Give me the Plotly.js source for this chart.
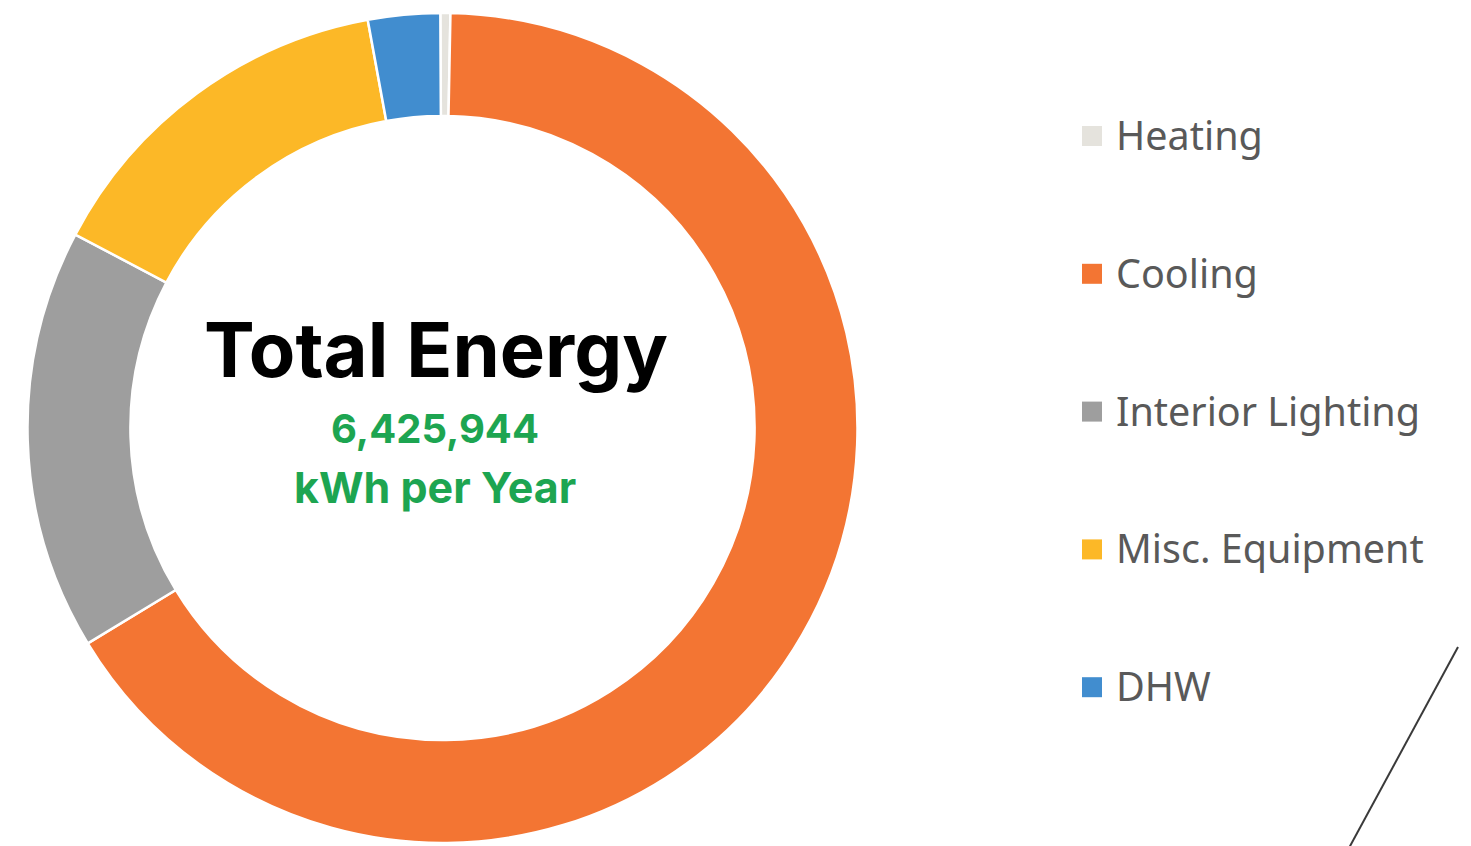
<!DOCTYPE html>
<html>
<head>
<meta charset="utf-8">
<script src="https://cdn.plot.ly/plotly-3.0.1.min.js"></script>
<style>html,body{margin:0;padding:0;background:#fff;}#chart{width:1471px;height:846px;}</style>
</head>
<body>
<div id="chart"></div>
<script>
// Data (kWh per year)
const categories = ["Heating", "Cooling", "Interior Lighting", "Misc. Equipment", "DHW"];
const energyKWh = [25000, 4241744, 1053900, 925300, 180000];
const sliceColors = ["#E5E3DD", "#F37533", "#9E9E9E", "#FCB827", "#418DCF"];
const centerTitle = "Total Energy";
const totalLabel = "6,425,944";
const unitLabel = "kWh per Year";

const W = 1471, H = 846;
const cx = 442.5, cy = 428, R = 415;
const px = x => x / W;
const py = y => (H - y) / H;

const trace = {
  type: "pie",
  labels: categories,
  values: energyKWh,
  marker: {colors: sliceColors, line: {color: "#ffffff", width: 2.5}},
  hole: 0.752,
  sort: false,
  direction: "clockwise",
  rotation: -0.3,
  textinfo: "none",
  hoverinfo: "label+value+percent",
  showlegend: false,
  domain: {x: [px(cx - R), px(cx + R)], y: [py(cy + R), py(cy - R)]}
};

const annotations = [
  {text: "<b>" + centerTitle + "</b>", x: px(436), y: py(349), xref: "paper", yref: "paper",
   showarrow: false, xanchor: "center", yanchor: "middle",
   font: {family: "Inter, 'Noto Sans', sans-serif", size: 76, color: "#000000"}},
  {text: "<b>" + totalLabel + "</b>", x: px(435), y: py(428), xref: "paper", yref: "paper",
   showarrow: false, xanchor: "center", yanchor: "middle",
   font: {family: "Inter, 'Noto Sans', sans-serif", size: 40, color: "#1DA551"}},
  {text: "<b>" + unitLabel + "</b>", x: px(435), y: py(487), xref: "paper", yref: "paper",
   showarrow: false, xanchor: "center", yanchor: "middle",
   font: {family: "Inter, 'Noto Sans', sans-serif", size: 43, color: "#1DA551"}}
];

const shapes = [
  {type: "line", xref: "paper", yref: "paper", x0: px(1458), y0: py(647), x1: px(1349), y1: py(848),
   line: {color: "#3a3a3a", width: 2}}
];

// Custom legend built from categories / colors
const legX = 1082, legY0 = 136, legStep = 137.8, sq = 20;
categories.forEach((name, i) => {
  const yc = legY0 + i * legStep;
  shapes.push({type: "rect", xref: "paper", yref: "paper",
    x0: px(legX), x1: px(legX + sq), y0: py(yc + sq / 2), y1: py(yc - sq / 2),
    fillcolor: sliceColors[i], line: {width: 0}});
  annotations.push({text: name, x: px(1114), y: py(yc - 1), xref: "paper", yref: "paper",
    showarrow: false, xanchor: "left", yanchor: "middle",
    font: {family: "'Noto Sans', sans-serif", size: 39.5, color: "#595959"}});
});

const layout = {
  width: W, height: H,
  margin: {l: 0, r: 0, t: 0, b: 0},
  paper_bgcolor: "#ffffff",
  plot_bgcolor: "#ffffff",
  showlegend: false,
  annotations: annotations,
  shapes: shapes
};

Plotly.newPlot("chart", [trace], layout, {displayModeBar: false, staticPlot: false});
</script>
</body>
</html>
